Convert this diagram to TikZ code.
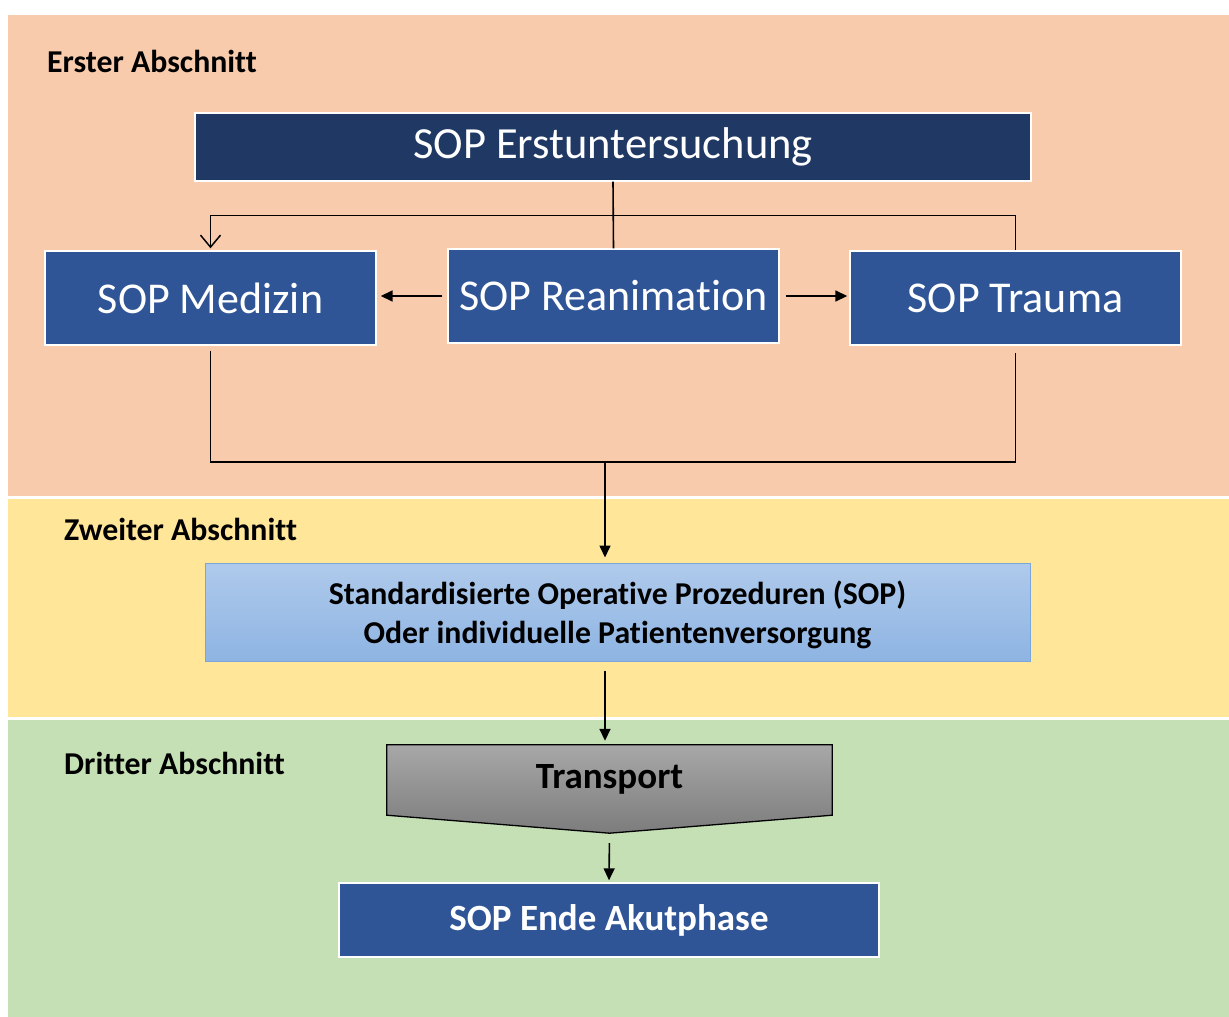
\documentclass[tikz,border=0pt]{standalone}
\usepackage{fontspec}
\setmainfont[Ligatures=NoCommon]{Carlito}
\usetikzlibrary{arrows.meta,calc}
\definecolor{bandA}{HTML}{F8CBAD}
\definecolor{bandB}{HTML}{FFE699}
\definecolor{bandC}{HTML}{C5E0B4}
\definecolor{navy}{HTML}{203864}
\definecolor{sopblue}{HTML}{2F5597}
\definecolor{lbtop}{HTML}{AFCAEB}
\definecolor{lbbot}{HTML}{8EB4E3}
\definecolor{lbline}{HTML}{7BA6D8}
\definecolor{grtop}{HTML}{A8A8A8}
\definecolor{grbot}{HTML}{7C7C7C}
\tikzset{
  band/.style={draw=white, line width=1.2pt},
  seclabel/.style={anchor=base west, inner sep=0pt, font=\fontsize{31.8}{36}\selectfont\bfseries},
  sopbox/.style={draw=white, line width=1.4pt, fill=sopblue, text=white, inner sep=0pt,
    font=\fontsize{44}{50}\selectfont},
  conn/.style={line width=1.6pt, draw=black},
  arr/.style={conn, -{Triangle[length=12pt,width=11pt]}},
  openarr/.style={conn, -{Straight Barb[length=12pt,width=20pt,line width=1.5pt]}},
}
\begin{document}
\begin{tikzpicture}[x=1pt,y=-1pt]
\useasboundingbox (0,0) rectangle (1229,1017);
\fill[white] (0,0) rectangle (1229,1017);

% three section bands
\path[band, fill=bandA] (7,14) rectangle (1231,497);
\path[band, fill=bandB] (7,498) rectangle (1231,718);
\path[band, fill=bandC] (7,719) rectangle (1231,1020);

% section labels
\node[seclabel] (l1) at (47,72) {Erster Abschnitt};
\node[seclabel] (l2) at (64,540) {Zweiter Abschnitt};
\node[seclabel] (l3) at (64,774) {Dritter Abschnitt};

% first section
\node[sopbox, fill=navy, minimum width=836pt, minimum height=68pt,
      font=\fontsize{44.5}{50}\selectfont] (erst) at (613,147) {SOP Erstuntersuchung};
\node[sopbox, minimum width=331pt, minimum height=94pt] (med)  at (210.5,298) {SOP Medizin};
\node[sopbox, minimum width=331pt, minimum height=94pt] (rean) at (613.5,296) {SOP Reanimation};
\node[sopbox, minimum width=331pt, minimum height=94pt] (trau) at (1015.5,298) {SOP Trauma};

% second section
\node[draw=lbline, line width=1pt, top color=lbtop, bottom color=lbbot,
      minimum width=825pt, minimum height=98pt, inner sep=0pt] (std) at (617.5,612) {};
\node[align=center, inner sep=0pt, font=\fontsize{31.8}{39}\selectfont\bfseries]
      (stdtext) at (617.5,615)
      {Standardisierte Operative Prozeduren (SOP)\\Oder individuelle Patientenversorgung};

% third section
\node[minimum width=445pt, minimum height=70pt, inner sep=0pt] (tr) at (609.5,780) {};
\coordinate (trtip) at ($(tr.south)+(0,18)$);
\path[draw=black, line width=1.3pt, top color=grtop, bottom color=grbot]
  (tr.north west) -- (tr.north east) -- (tr.south east) -- (trtip)
  -- (tr.south west) -- cycle;
\node[font=\fontsize{37}{40}\selectfont\bfseries, inner sep=0pt] (trlabel) at (609.5,779) {Transport};
\node[sopbox, minimum width=540pt, minimum height=74pt,
      font=\fontsize{37}{40}\selectfont\bfseries] (ende) at (609,920) {SOP Ende Akutphase};

% connectors
\draw[conn] (erst.south) -- (rean.north);
\draw[openarr, shorten >=2pt] (trau.north) -- ++(0,-35) -| (med.north);
\draw[arr, shorten <=5pt, shorten >=4pt] (rean.west) -- (rean.west -| med.east);
\draw[arr, shorten <=6pt, shorten >=2pt] (rean.east) -- (rean.east -| trau.west);
\coordinate (join) at (605,462);
\draw[conn, shorten <=5pt, shorten >=7pt] (med.south) |- (join) -| (trau.south);
\draw[arr, shorten >=5pt] (join) -- (join |- std.north);
\draw[arr, shorten <=9pt, shorten >=4pt] (std.south -| join) -- (join |- tr.north);
\draw[arr, shorten <=10pt, shorten >=2pt] (trtip) -- (ende.north);
\end{tikzpicture}
\end{document}
